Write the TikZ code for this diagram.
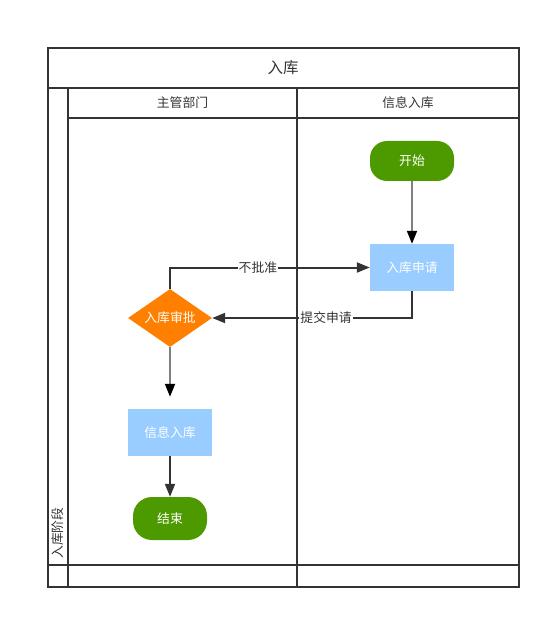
\documentclass[tikz,border=0pt]{standalone}
\usepackage{fontspec}
\setmainfont{Noto Sans CJK SC}
\usetikzlibrary{shapes.geometric,arrows.meta}
\definecolor{frameC}{HTML}{333333}
\definecolor{greenC}{HTML}{4D9900}
\definecolor{orangeC}{HTML}{FF8000}
\definecolor{blueC}{HTML}{99CCFF}
\definecolor{grayC}{HTML}{808080}
\begin{document}
\begin{tikzpicture}[x=1pt,y=-1pt,
  every node/.style={font=\fontsize{12.8}{14}\selectfont, inner sep=0pt},
  frameline/.style={draw=frameC, line width=2pt},
  startend/.style={fill=greenC, text=white, rounded corners=17pt},
  procbox/.style={fill=blueC, text=white, minimum width=84pt, minimum height=47pt},
  decision/.style={diamond, fill=orangeC, text=white, minimum width=84pt, minimum height=58pt},
  flow/.style={line width=2pt, draw=frameC, -{Triangle[length=13pt,width=10pt]}},
  flowgray/.style={line width=2pt, draw=grayC, -{Triangle[length=13pt,width=10pt,color=black,fill=black]}},
  elabel/.style={fill=white, text=frameC, inner sep=1pt}
]
\useasboundingbox (0,0) rectangle (551,620);
% frame
\draw[frameline] (48,48) rectangle (519,587);
\draw[frameline] (48,88) -- (519,88);
\draw[frameline] (68,118) -- (519,118);
\draw[frameline] (68,88) -- (68,587);
\draw[frameline] (297,88) -- (297,587);
\draw[frameline] (48,565) -- (519,565);
\node[text=frameC, font=\fontsize{15.5}{17}\selectfont] (title) at (283,68) {入库};
\node[text=frameC] (h1) at (182.5,103) {主管部门};
\node[text=frameC] (h2) at (408,103) {信息入库};
\node[text=frameC, rotate=90] (lane) at (58,533) {入库阶段};
% nodes
\node[startend, minimum width=84pt, minimum height=40pt] (start) at (412,161) {开始};
\node[procbox] (apply) at (412,267.5) {入库申请};
\node[decision] (check) at (170,318) {};
\node[text=white] (checklabel) at (check) {入库审批};
\node[procbox] (store) at (170,432.5) {信息入库};
\node[startend, minimum width=74pt, minimum height=43pt, rounded corners=19pt] (end) at (170,518.5) {结束};
% edges
\draw[flowgray] (start) -- (apply);
\draw[flow] (apply.south) |- (check.east) node[elabel, pos=0.715] {提交申请};
\draw[flow] (check.north) |- (apply.west) node[elabel, pos=0.72] {不批准};
\draw[flowgray, shorten >=12pt] (check) -- (store);
\draw[flow] (store) -- (end);
\end{tikzpicture}
\end{document}
